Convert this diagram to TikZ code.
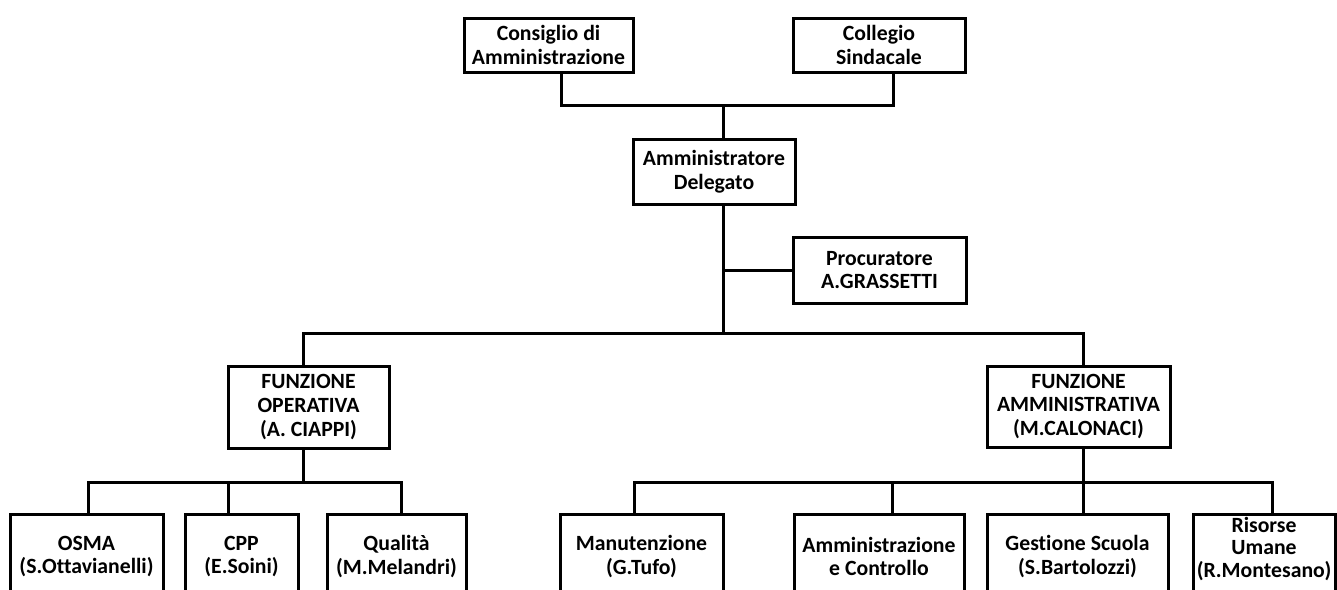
\documentclass[tikz,border=0pt]{standalone}
\usepackage{fontspec}
\setmainfont{Carlito}[Ligatures={NoCommon,NoContextual}]
\tikzset{
  box/.style={draw, line width=2.25pt, fill=white, align=center, inner sep=0pt,
    font=\bfseries\fontsize{16.3}{17.8}\selectfont},
  txt/.style={align=center, inner sep=0pt, font=\bfseries\fontsize{16.3}{17.2}\selectfont},
  conn/.style={line width=2.25pt, line join=miter}
}
\newcommand\obox[6]{\node[box, minimum width={(#4-#2)*0.75pt}, minimum height={(#5-#3)*0.75pt}] (#1) at ({(#2+#4)/2},{(#3+#5)/2}) {#6};}
\begin{document}
\begin{tikzpicture}[x=0.75pt,y=-0.75pt]
\useasboundingbox (0,0) rectangle (1337,589);
\clip (0,0) rectangle (1337,589);
\fill[white] (0,0) rectangle (1337,589);
% junction coordinates
\coordinate (k1) at (561,105);
\coordinate (k2) at (893,105);
\coordinate (j1) at (723,105);
\coordinate (m0) at (723,333);
\coordinate (m1) at (303,333);
\coordinate (m2) at (1083,333);
\coordinate (s0) at (303,482);
\coordinate (a1) at (88,482);
\coordinate (a2) at (228,482);
\coordinate (a3) at (401,482);
\coordinate (b1) at (634,482);
\coordinate (b2) at (892,482);
\coordinate (b3) at (1083,482);
\coordinate (b4) at (1272,482);
% boxes
\obox{cda}{464}{18}{633}{72}{Consiglio di\\Amministrazione}
\obox{cs}{793}{18}{965}{72}{Collegio\\Sindacale}
\obox{ad}{633}{139}{795}{204}{Amministratore\\Delegato}
\obox{proc}{793}{237}{966}{303}{Procuratore\\A.GRASSETTI}
\obox{fo}{228}{366}{389}{448}{FUNZIONE\\OPERATIVA\\(A. CIAPPI)}
\obox{fa}{987}{366}{1170}{447}{FUNZIONE\\AMMINISTRATIVA\\(M.CALONACI)}
\obox{osma}{10}{514}{163}{599}{OSMA\\(S.Ottavianelli)}
\obox{cpp}{185}{514}{298}{599}{CPP\\(E.Soini)}
\obox{qual}{327}{514}{466}{599}{Qualità\\(M.Melandri)}
\obox{man}{560}{514}{723}{599}{Manutenzione\\(G.Tufo)}
\obox{amc}{794}{514}{964}{599}{Amministrazione\\e Controllo}
\obox{gs}{987}{514}{1168}{599}{Gestione Scuola\\(S.Bartolozzi)}
\obox{ru}{1193}{514}{1335}{599}{}
\node[txt] (rut) at (1264,549) {Risorse\\Umane\\(R.Montesano)};
% connectors
\draw[conn] (cda.south -| k1) -- (k1) -- (k2) -- (cs.south -| k2);
\draw[conn] (j1) -- (ad.north -| j1);
\draw[conn] (ad.south -| m0) -- (m0);
\draw[conn] (proc.west) -- (proc.west -| m0);
\draw[conn] (fo.north -| m1) -- (m1) -- (m2) -- (fa.north -| m2);
\draw[conn] (fo.south -| s0) -- (s0);
\draw[conn] (osma.north -| a1) -- (a1) -- (a3) -- (qual.north -| a3);
\draw[conn] (a2) -- (cpp.north -| a2);
\draw[conn] (fa.south -| b3) -- (b3);
\draw[conn] (man.north -| b1) -- (b1) -- (b4) -- (ru.north -| b4);
\draw[conn] (b2) -- (amc.north -| b2);
\draw[conn] (b3) -- (gs.north -| b3);
\end{tikzpicture}
\end{document}
